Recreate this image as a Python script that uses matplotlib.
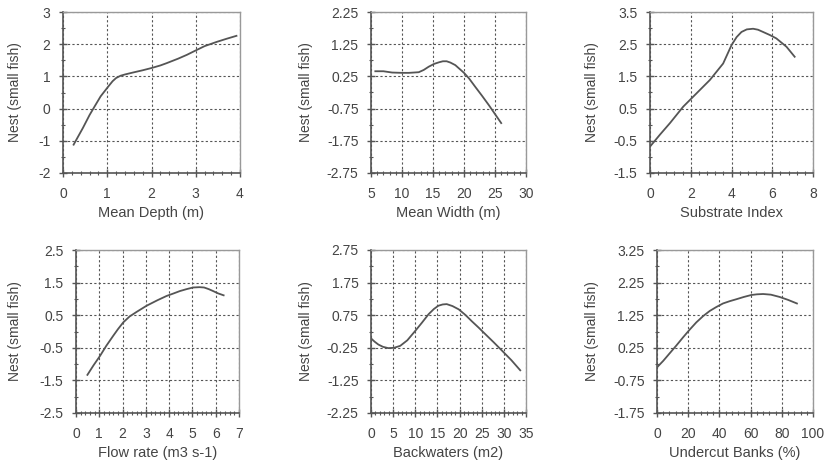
import numpy as np
import matplotlib
matplotlib.use("Agg")
import matplotlib.pyplot as plt
from matplotlib.ticker import AutoMinorLocator

plt.rcParams['font.family'] = ['Liberation Sans', 'DejaVu Sans']

# data
depth_x = [0.24, 0.45, 0.6, 0.72, 0.85, 1.02, 1.12, 1.2, 1.3, 1.4, 1.58, 1.8, 2.0, 2.2, 2.34, 2.6, 2.8, 3.02, 3.2, 3.47, 3.7, 3.92]
depth_y = [-1.12, -0.6, -0.2, 0.08, 0.38, 0.68, 0.85, 0.95, 1.02, 1.06, 1.12, 1.19, 1.26, 1.34, 1.41, 1.55, 1.67, 1.82, 1.94, 2.07, 2.17, 2.26]

width_x = [5.7, 7.0, 8.4, 10.0, 11.1, 12.7, 13.5, 14.3, 15.2, 16.0, 16.6, 17.2, 17.8, 18.6, 19.3, 20.0, 20.8, 21.8, 22.9, 24.0, 25.0, 26.0]
width_y = [0.41, 0.41, 0.37, 0.36, 0.36, 0.38, 0.45, 0.55, 0.64, 0.69, 0.72, 0.72, 0.68, 0.6, 0.48, 0.36, 0.19, -0.07, -0.35, -0.64, -0.92, -1.2]

subst_x = [0.0, 0.5, 0.98, 1.63, 2.12, 2.94, 3.59, 4.0, 4.25, 4.49, 4.75, 5.06, 5.3, 5.55, 5.9, 6.2, 6.7, 7.1]
subst_y = [-0.68, -0.3, 0.05, 0.56, 0.87, 1.39, 1.9, 2.47, 2.72, 2.88, 2.96, 2.98, 2.95, 2.88, 2.78, 2.68, 2.42, 2.11]

flow_x = [0.49, 0.75, 1.03, 1.3, 1.6, 1.8, 2.03, 2.3, 2.6, 3.03, 3.5, 3.89, 4.2, 4.46, 4.75, 5.03, 5.3, 5.5, 5.7, 5.89, 6.1, 6.34]
flow_y = [-1.33, -1.04, -0.75, -0.44, -0.13, 0.07, 0.28, 0.46, 0.6, 0.79, 0.96, 1.09, 1.17, 1.24, 1.3, 1.35, 1.36, 1.35, 1.3, 1.24, 1.17, 1.11]

back_x = [0.0, 0.8, 1.66, 2.7, 3.9, 5.2, 6.6, 8.2, 10.0, 11.5, 13.0, 14.2, 15.2, 16.2, 17.1, 18.4, 19.8, 21.3, 22.8, 24.3, 25.8, 27.7, 29.6, 31.7, 33.7]
back_y = [0.04, -0.06, -0.15, -0.22, -0.26, -0.25, -0.19, -0.02, 0.27, 0.52, 0.78, 0.94, 1.04, 1.08, 1.09, 1.03, 0.93, 0.76, 0.56, 0.37, 0.17, -0.08, -0.34, -0.63, -0.94]

under_x = [0.6, 4.0, 8.1, 12.4, 16.7, 21.0, 25.2, 29.5, 33.8, 38.0, 42.3, 46.6, 50.9, 55.7, 60.5, 64.0, 68.0, 73.0, 78.6, 84.0, 89.7]
under_y = [-0.32, -0.15, 0.08, 0.32, 0.57, 0.81, 1.03, 1.22, 1.38, 1.5, 1.61, 1.68, 1.74, 1.81, 1.87, 1.89, 1.9, 1.88, 1.81, 1.72, 1.61]

panels = [
    # x, y, xlabel, xticks, yticks, pixel box (left, top, right, bottom), ylabel x
    (depth_x, depth_y, 'Mean Depth (m)', [0, 1, 2, 3, 4], [-2, -1, 0, 1, 2, 3], (63, 12, 240, 173), 15),
    (width_x, width_y, 'Mean Width (m)', [5, 10, 15, 20, 25, 30], [-2.75, -1.75, -0.75, 0.25, 1.25, 2.25], (371, 12, 526, 173), 306),
    (subst_x, subst_y, 'Substrate Index', [0, 2, 4, 6, 8], [-1.5, -0.5, 0.5, 1.5, 2.5, 3.5], (650, 12, 813, 173), 592),
    (flow_x, flow_y, 'Flow rate (m3 s-1)', [0, 1, 2, 3, 4, 5, 6, 7], [-2.5, -1.5, -0.5, 0.5, 1.5, 2.5], (76, 250, 239, 413), 15),
    (back_x, back_y, 'Backwaters (m2)', [0, 5, 10, 15, 20, 25, 30, 35], [-2.25, -1.25, -0.25, 0.75, 1.75, 2.75], (371, 250, 526, 413), 306),
    (under_x, under_y, 'Undercut Banks (%)', [0, 20, 40, 60, 80, 100], [-1.75, -0.75, 0.25, 1.25, 2.25, 3.25], (657, 250, 813, 413), 592),
]

W, H = 825, 468
fig = plt.figure(figsize=(W / 100, H / 100), dpi=100)
txt = '#444444'

for x, y, xlab, xt, yt, box, ylx in panels:
    l, t, r, b = box
    ax = fig.add_axes([l / W, 1 - b / H, (r - l) / W, (b - t) / H])
    ax.plot(x, y, color='#555555', lw=1.3)
    ax.set_xlim(xt[0], xt[-1])
    ax.set_ylim(yt[0], yt[-1])
    ax.set_xticks(xt)
    ax.set_yticks(yt)
    ax.set_yticklabels([('%g' % v) for v in yt])
    ax.xaxis.set_minor_locator(AutoMinorLocator(5))
    ax.yaxis.set_minor_locator(AutoMinorLocator(2))
    ax.tick_params(which='major', direction='inout', length=6, width=1, colors='#555555',
                   labelcolor=txt, labelsize=10)
    ax.tick_params(axis='x', which='major', pad=7)
    ax.tick_params(axis='y', which='major', pad=6)
    ax.tick_params(which='minor', direction='inout', length=3, width=0.8, colors='#555555')
    ax.grid(True, which='major', color='#555555', linestyle=(0, (2, 2)), linewidth=0.8)
    for s in ['left', 'bottom']:
        ax.spines[s].set_color('#555555')
        ax.spines[s].set_linewidth(1.2)
    for s in ['top', 'right']:
        ax.spines[s].set_color('#999999')
        ax.spines[s].set_linewidth(1.0)
    ax.set_xlabel(xlab, fontsize=10.5, color=txt, labelpad=4)
    fig.text(ylx / W, 1 - (t + b) / 2 / H, 'Nest (small fish)', rotation=90,
             ha='center', va='center', fontsize=10, color=txt)

fig.savefig('out.png', dpi=100)
